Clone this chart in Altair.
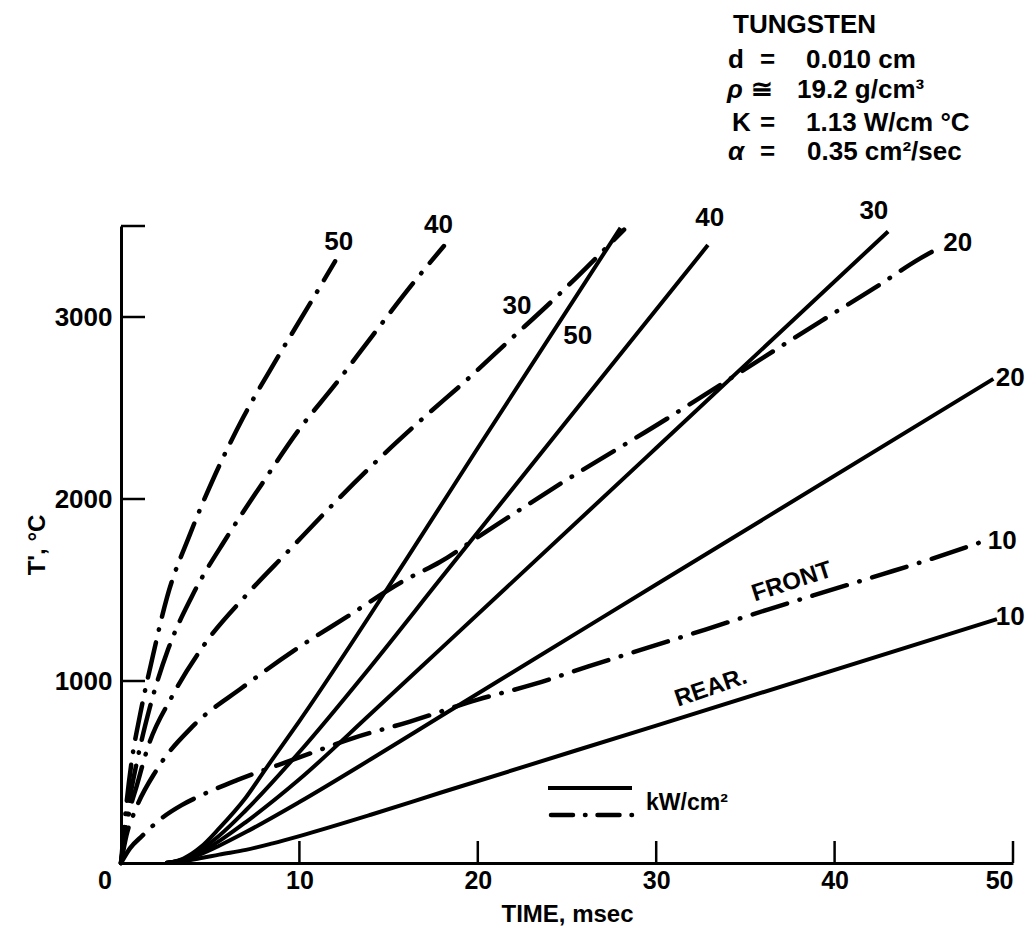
import altair as alt
import pandas as pd

# ---------------- data ----------------
# REAR (solid) curves, time in msec, temperature in degC
rear10_t = [2.5, 3.5, 4.5, 5.5, 7.0, 8.5, 10.0, 14.0, 17.9, 30.0, 49.1]
rear10_T = [0, 10, 27, 46, 72, 108, 148, 265, 386, 755, 1340]
rear20_t = [2.5, 3.5, 4.5, 5.5, 7.0, 10.0, 14.0, 17.9, 30.0, 48.9]
rear20_T = [0, 15, 50, 95, 170, 335, 570, 805, 1530, 2660]
rear30_t = [2.5, 3.5, 4.5, 5.5, 7.0, 10.0, 14.0, 17.9, 30.0, 43.0]
rear30_T = [0, 18, 60, 120, 225, 460, 820, 1175, 2280, 3470]
rear40_t = [2.5, 3.5, 4.5, 5.5, 7.0, 10.0, 14.0, 17.9, 25.0, 32.9]
rear40_T = [0, 20, 75, 150, 290, 610, 1080, 1560, 2430, 3395]
rear50_t = [2.5, 3.5, 4.5, 5.5, 7.0, 8.2, 10.0, 16.0, 20.0, 28.0]
rear50_T = [0, 25, 90, 190, 360, 530, 780, 1670, 2280, 3490]

# FRONT (dash-dot) curves
front10_t = [0, 0.5, 1.2, 2.2, 3.4, 4.5, 6.5, 9.8, 13.1, 16.2, 20.0, 23.1, 26.2, 29.4, 32.8, 36.3, 39.4, 42.7, 45.9, 48.2]
front10_T = [0, 80, 150, 240, 318, 372, 455, 573, 689, 777, 898, 981, 1080, 1179, 1284, 1394, 1488, 1587, 1686, 1763]
front20_t = [0, 0.3, 0.8, 2.0, 4.0, 6.8, 9.8, 12.7, 15.8, 17.9, 20.0, 24.8, 30.6, 33.0, 39.2, 42.2, 44.8, 45.8]
front20_T = [0, 150, 290, 512, 749, 964, 1174, 1355, 1548, 1655, 1790, 2094, 2441, 2590, 2975, 3157, 3322, 3377]
front30_t = [0, 0.4, 0.9, 1.5, 2.86, 4.6, 7.07, 9.37, 11.9, 14.4, 16.9, 19.4, 21.7, 24.2, 28.2]
front30_T = [0, 250, 430, 634, 915, 1190, 1477, 1713, 1972, 2215, 2441, 2656, 2865, 3091, 3480]
front40_t = [0, 0.4, 0.9, 1.63, 2.64, 3.98, 5.94, 7.9, 9.93, 12.0, 14.1, 16.5, 18.1]
front40_T = [0, 300, 560, 860, 1174, 1466, 1791, 2083, 2375, 2628, 2898, 3201, 3390]
front50_t = [0, 0.3, 0.6, 1.07, 1.74, 2.58, 3.87, 5.27, 6.84, 8.64, 10.5, 12.0]
front50_T = [0, 320, 560, 815, 1118, 1460, 1807, 2132, 2446, 2755, 3058, 3306]

# curve labels
lab_text = ["50", "40", "30", "50", "40", "30", "20", "20", "10", "10"]
lab_t = [12.2, 17.8, 22.2, 25.6, 33.0, 42.2, 46.9, 49.85, 49.4, 49.85]
lab_T = [3410, 3504, 3063, 2893, 3543, 3581, 3405, 2667, 1769, 1350]

# axis ticks
x_tick_values = [10, 20, 30, 40, 50]
y_tick_values = [1000, 2000, 3000, 3500]
y_label_values = [1000, 2000, 3000]

# property block
block_title = "TUNGSTEN"
block_sym = ["d", "ρ", "K", "α"]
block_rel = ["=", "≅", "=", "="]
block_val = ["0.010 cm", "19.2 g/cm³", "1.13 W/cm °C", "0.35 cm²/sec"]

# ---------------- build tables ----------------
series = [
    ("rear10", "REAR", rear10_t, rear10_T), ("rear20", "REAR", rear20_t, rear20_T),
    ("rear30", "REAR", rear30_t, rear30_T), ("rear40", "REAR", rear40_t, rear40_T),
    ("rear50", "REAR", rear50_t, rear50_T),
    ("front10", "FRONT", front10_t, front10_T), ("front20", "FRONT", front20_t, front20_T),
    ("front30", "FRONT", front30_t, front30_T), ("front40", "FRONT", front40_t, front40_T),
    ("front50", "FRONT", front50_t, front50_T),
]
rows = []
for name, side, ts, Ts in series:
    for i, (t, T) in enumerate(zip(ts, Ts)):
        rows.append({"curve": name, "side": side, "t": t, "T": T, "order": i})
df = pd.DataFrame(rows)
df_rear = df[df.side == "REAR"]
df_front = df[df.side == "FRONT"]

labels_df = pd.DataFrame({"text": lab_text, "t": lab_t, "T": lab_T})
xt_df = pd.DataFrame({"t": x_tick_values})
yt_df = pd.DataFrame({"T": y_tick_values})

FONT = "Liberation Sans"
W, H = 892, 637
L, TOP = 121, 226  # page position of plot origin (for annotation placement)

xs = alt.Scale(domain=[0, 50], nice=False, zero=False)
ys = alt.Scale(domain=[0, 3500], nice=False)

x_axis = alt.Axis(values=x_tick_values, title="TIME, msec", ticks=False, grid=False,
                  domainColor="black", domainWidth=3, labelFontSize=25, labelFontWeight="bold",
                  labelColor="black", labelFont=FONT, labelPadding=5, titleFont=FONT,
                  titleFontSize=24, titleFontWeight="bold", titleColor="black", titlePadding=9,
                  labelFlush=True, format="d")
y_axis = alt.Axis(values=y_label_values, title="T', °C", ticks=False, grid=False,
                  domainColor="black", domainWidth=3, labelFontSize=26, labelFontWeight="bold",
                  labelColor="black", labelFont=FONT, labelPadding=9, titleFont=FONT,
                  titleFontSize=24, titleFontWeight="bold", titleColor="black", titlePadding=5,
                  format="d")

X = alt.X("t:Q", scale=xs, axis=x_axis)
Y = alt.Y("T:Q", scale=ys, axis=y_axis)

rear = alt.Chart(df_rear).mark_line(color="black", strokeWidth=4, interpolate="monotone").encode(
    x=X, y=Y, detail="curve:N", order="order:Q")

front = alt.Chart(df_front).mark_line(color="black", strokeWidth=4.5, interpolate="monotone",
                                      strokeDash=[36, 13, 0.5, 13], strokeCap="round").encode(
    x=X, y=Y, detail="curve:N", order="order:Q")

xticks = alt.Chart(xt_df).mark_rule(color="black", strokeWidth=2.5).encode(
    x=X, y=alt.value(H), y2=alt.value(H - 22))
yticks = alt.Chart(yt_df).mark_rule(color="black", strokeWidth=2.5).encode(
    y=Y, x=alt.value(0), x2=alt.value(24))

curve_labels = alt.Chart(labels_df).mark_text(font=FONT, fontSize=26, fontWeight="bold",
                                              color="black").encode(
    x=X, y=Y, text="text:N")


def px_text(text, xpx, ypx, size=26, align="left", baseline="alphabetic", angle=0, style="normal"):
    return alt.Chart(pd.DataFrame({"text": [text]})).mark_text(
        font=FONT, fontSize=size, fontWeight="bold", color="black", align=align,
        baseline=baseline, angle=angle, fontStyle=style).encode(
        x=alt.value(xpx - L), y=alt.value(ypx - TOP), text="text:N")


zero_label = px_text("0", 105, 881, size=25, align="center", baseline="middle")
front_word = px_text("FRONT", 792, 582, size=24, align="center", baseline="middle", angle=342)
rear_word = px_text("REAR.", 711, 688, size=24, align="center", baseline="middle", angle=341)

# legend sample lines
leg_solid = alt.Chart(pd.DataFrame({"k": [0]})).mark_rule(color="black", strokeWidth=4).encode(
    x=alt.value(548 - L), x2=alt.value(632 - L), y=alt.value(788 - TOP))
leg_dash = alt.Chart(pd.DataFrame({"k": [0]})).mark_rule(
    color="black", strokeWidth=4.5, strokeDash=[22, 12, 0.5, 12], strokeCap="round").encode(
    x=alt.value(551 - L), x2=alt.value(632 - L), y=alt.value(815 - TOP))
leg_text = px_text("kW/cm²", 646, 810, size=23)

# property block
rows_y = [68, 98, 131, 160]
block = [px_text(block_title, 733, 33)]
sym_x = [728, 727, 732, 728]
rel_x = [760, 751, 760, 760]
val_x = [806, 797, 806, 807]
for i in range(4):
    block.append(px_text(block_sym[i], sym_x[i], rows_y[i],
                         style="italic" if block_sym[i] in ("ρ", "α") else "normal"))
    block.append(px_text(block_rel[i], rel_x[i], rows_y[i]))
    block.append(px_text(block_val[i], val_x[i], rows_y[i]))

chart = alt.layer(
    rear, front, xticks, yticks, curve_labels, zero_label, front_word, rear_word,
    leg_solid, leg_dash, leg_text, *block
).properties(
    width=W, height=H,
    autosize=alt.AutoSizeParams(type="none"),
    padding={"left": 113, "top": 218, "right": 12, "bottom": 63},
).configure_view(stroke=None)

chart.save("out.html", embed_options={"renderer": "svg", "actions": False})
